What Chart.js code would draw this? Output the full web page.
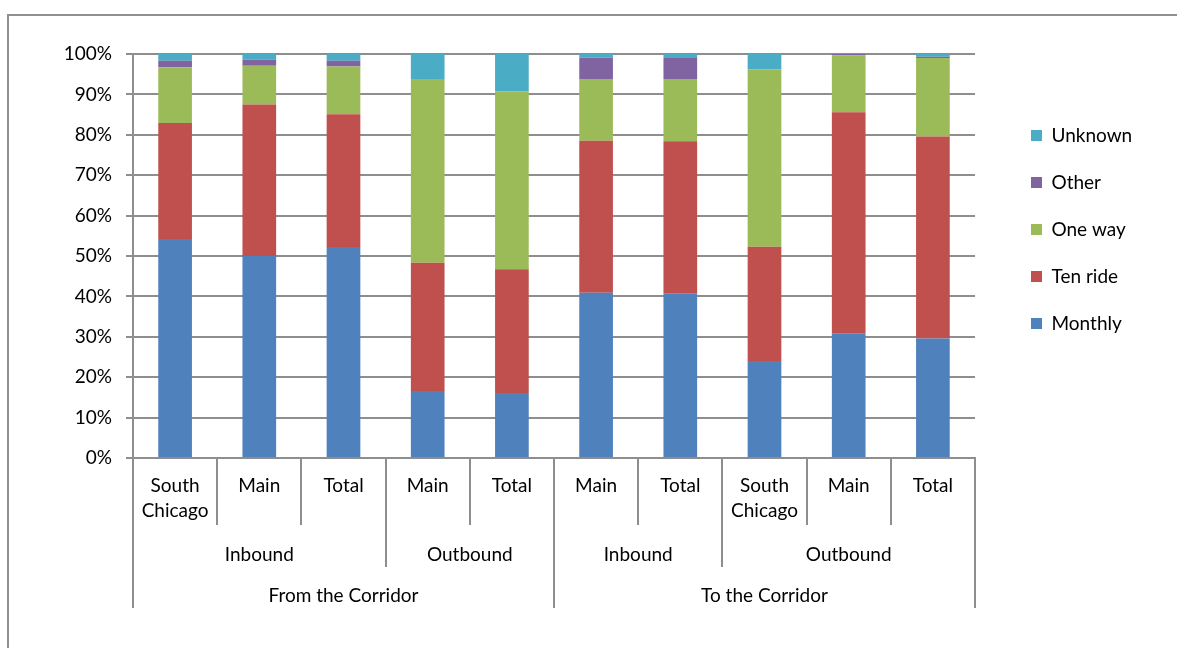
<!DOCTYPE html>
<html>
<head>
<meta charset="utf-8">
<title>Ticket type by direction</title>
<script src="https://cdn.jsdelivr.net/npm/chart.js@4.4.1/dist/chart.umd.min.js"></script>
<style>
  body { margin: 0; background: #fff; overflow: hidden; }
  #frame { position: absolute; left: 7px; top: 14px; width: 1300px; height: 800px;
           border-left: 2px solid #909090; border-top: 2px solid #909090; }
  #chart { position: absolute; left: 0; top: 0; }
</style>
</head>
<body>
<div id="frame"></div>
<canvas id="chart" width="1177" height="648"></canvas>
<script>
// stations (bottom row), then direction and corridor groups with how many stations each covers
const stations = ['South Chicago', 'Main', 'Total', 'Main', 'Total', 'Main', 'Total', 'South Chicago', 'Main', 'Total'];
const directions = ['Inbound', 'Outbound', 'Inbound', 'Outbound'];
const directionSpans = [3, 2, 2, 3];
const corridors = ['From the Corridor', 'To the Corridor'];
const corridorSpans = [5, 5];

// share of riders by ticket type (%)
const monthly = [54.2, 50.0, 52.2, 16.6, 16.1, 40.9, 40.8, 24.0, 30.9, 29.6];
const tenRide = [28.7, 37.5, 32.9, 31.7, 30.6, 37.6, 37.6, 28.3, 54.7, 50.0];
const oneWay  = [13.8,  9.6, 11.8, 45.5, 44.1, 15.3, 15.4, 43.9, 14.1, 19.4];
const other   = [ 1.6,  1.5,  1.4,  0.0,  0.0,  5.3,  5.2,  0.0,  0.3,  0.3];
const unknown = [ 1.7,  1.4,  1.7,  6.2,  9.2,  0.9,  1.0,  3.8,  0.0,  0.7];

const yTicks = [0, 10, 20, 30, 40, 50, 60, 70, 80, 90, 100];

const gray = '#8e8e8e';
const fontFamily = 'Lato, "Liberation Sans", sans-serif';
const fontSize = 19;

Chart.defaults.font.family = fontFamily;
Chart.defaults.font.size = fontSize;
Chart.defaults.color = '#000';

// draws the direction / corridor rows under the station labels
const groupAxis = {
  id: 'groupAxis',
  afterDraw(chart) {
    const x = chart.scales.x;
    const ctx = chart.ctx;
    const half = (x.getPixelForValue(1) - x.getPixelForValue(0)) / 2;
    const edge = i => x.getPixelForValue(i) - half;

    ctx.save();
    ctx.strokeStyle = gray;
    ctx.lineWidth = 2;
    ctx.fillStyle = '#000';
    ctx.font = fontSize + 'px ' + fontFamily;
    ctx.textAlign = 'center';
    ctx.textBaseline = 'middle';

    const line = (px, bottom) => {
      px = Math.round(px);
      ctx.beginPath();
      ctx.moveTo(px, x.top);
      ctx.lineTo(px, bottom);
      ctx.stroke();
    };

    let start = 0;
    directions.forEach((d, k) => {
      const end = start + directionSpans[k];
      line(edge(start), x.top + 109);
      ctx.fillText(d, (edge(start) + edge(end)) / 2, x.top + 97);
      start = end;
    });

    start = 0;
    corridors.forEach((c, k) => {
      const end = start + corridorSpans[k];
      line(edge(start), x.bottom);
      line(edge(end), x.bottom);
      ctx.fillText(c, (edge(start) + edge(end)) / 2, x.top + 138);
      start = end;
    });
    ctx.restore();
  },
  afterLayout(chart) {
    // legend sits in the right margin, beside the upper half of the plot
    const lg = chart.legend;
    lg.left = 1003;
    lg.right = lg.left + 170;
    lg.top = 98;
    lg.bottom = 560;
  }
};

new Chart(document.getElementById('chart'), {
  type: 'bar',
  data: {
    labels: stations.map(s => s.split(' ')),
    datasets: [
      { label: 'Monthly',  data: monthly, backgroundColor: '#4F81BD' },
      { label: 'Ten ride', data: tenRide, backgroundColor: '#C0504D' },
      { label: 'One way',  data: oneWay,  backgroundColor: '#9BBB59' },
      { label: 'Other',    data: other,   backgroundColor: '#8064A2' },
      { label: 'Unknown',  data: unknown, backgroundColor: '#4BACC6' }
    ]
  },
  options: {
    responsive: false,
    animation: false,
    barPercentage: 0.4,
    categoryPercentage: 1,
    layout: { padding: { top: 54, left: 0, right: 202, bottom: 40 } },
    scales: {
      x: {
        stacked: true,
        grid: { drawOnChartArea: false, tickLength: 67, color: gray, lineWidth: 2 },
        border: { color: gray, width: 2 },
        ticks: { padding: -52, maxRotation: 0, autoSkip: false, font: { lineHeight: '25px' } },
        afterFit(scale) { scale.height = 150; }
      },
      y: {
        stacked: true,
        min: 0,
        max: 100,
        afterBuildTicks(scale) { scale.ticks = yTicks.map(v => ({ value: v })); },
        ticks: { padding: 14, callback: v => v + '%' },
        grid: { color: gray, lineWidth: 2, tickLength: 7 },
        border: { color: gray, width: 2 },
        afterFit(scale) { scale.width = 133; }
      }
    },
    plugins: {
      legend: {
        position: 'chartArea',
        align: 'start',
        reverse: true,
        labels: { boxWidth: 11, boxHeight: 11, padding: 28, color: '#000' }
      },
      tooltip: { enabled: false }
    }
  },
  plugins: [groupAxis]
});
</script>
</body>
</html>
